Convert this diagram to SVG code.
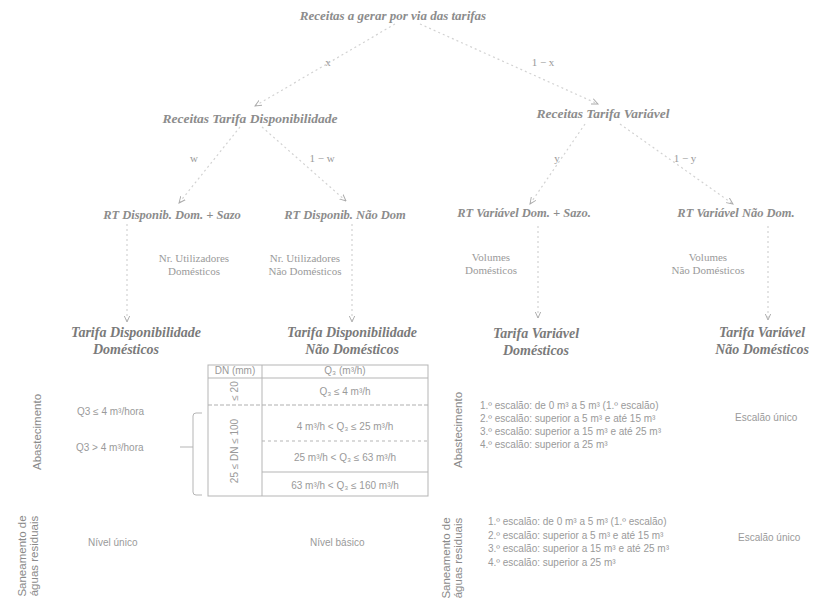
<svg xmlns="http://www.w3.org/2000/svg" width="813" height="600" viewBox="0 0 813 600">
<defs>
<style>
.h{font-family:"Liberation Serif",serif;font-style:italic;font-weight:bold;fill:#8c8c8c;text-anchor:middle}
.h1{font-size:13px}
.h2{font-size:13.5px}
.h3{font-size:12.5px}
.h4{font-size:14px;fill:#7a7a7a}
.el{font-family:"Liberation Serif",serif;font-size:11px;fill:#9a9a9a;text-anchor:middle}
.s{font-family:"Liberation Sans",sans-serif;font-size:10px;fill:#9a9a9a}
.m{text-anchor:middle}
.v{font-family:"Liberation Sans",sans-serif;font-size:11.5px;fill:#8a8a8a;text-anchor:middle}
.e{fill:none;stroke:#d2d2d2;stroke-width:1.2;stroke-dasharray:2 3}
.t{fill:none;stroke:#b5b5b5;stroke-width:1}
.td{fill:none;stroke:#b0b0b0;stroke-width:1.2;stroke-dasharray:4 2}
</style>
<marker id="a" viewBox="0 0 10 10" refX="9" refY="5" markerWidth="6" markerHeight="6" orient="auto-start-reverse">
<path d="M0,1 L9,5 L0,9" fill="none" stroke="#aaa" stroke-width="1.3"/>
</marker>
</defs>
<rect width="813" height="600" fill="#fff"/>

<g id="connectors">
<path class="e" d="M395,24 L255,106" marker-end="url(#a)"/>
<path class="e" d="M420,24 L598,104" marker-end="url(#a)"/>
<path class="e" d="M240,127 L179,203" marker-end="url(#a)"/>
<path class="e" d="M262,127 L346,201" marker-end="url(#a)"/>
<path class="e" d="M585,124 L530,204" marker-end="url(#a)"/>
<path class="e" d="M620,124 L733,204" marker-end="url(#a)"/>
<path class="e" d="M127,224 L127,322" marker-end="url(#a)"/>
<path class="e" d="M352,224 L352,322" marker-end="url(#a)"/>
<path class="e" d="M538,226 L538,318" marker-end="url(#a)"/>
<path class="e" d="M768,226 L768,320" marker-end="url(#a)"/>
<text class="el" x="328" y="66">x</text>
<text class="el" x="543" y="66">1 − x</text>
<text class="el" x="194" y="162">w</text>
<text class="el" x="322" y="162">1 − w</text>
<text class="el" x="557" y="162">y</text>
<text class="el" x="685" y="162">1 − y</text>
<text class="el" x="194" y="262">Nr. Utilizadores</text>
<text class="el" x="194" y="275">Domésticos</text>
<text class="el" x="305" y="262">Nr. Utilizadores</text>
<text class="el" x="305" y="275">Não Domésticos</text>
<text class="el" x="491" y="261">Volumes</text>
<text class="el" x="491" y="274">Domésticos</text>
<text class="el" x="708" y="261">Volumes</text>
<text class="el" x="708" y="274">Não Domésticos</text>
</g>

<g id="n-title"><text class="h h1" x="393" y="20">Receitas a gerar por via das tarifas</text></g>
<g id="n-disp"><text class="h h2" x="250" y="123">Receitas Tarifa Disponibilidade</text></g>
<g id="n-var"><text class="h h2" x="603" y="118">Receitas Tarifa Variável</text></g>
<g id="n-rtdd"><text class="h h3" x="172" y="219">RT Disponib. Dom. + Sazo</text></g>
<g id="n-rtdn"><text class="h h3" x="345" y="219">RT Disponib. Não Dom</text></g>
<g id="n-rtvd"><text class="h h3" x="524" y="217">RT Variável Dom. + Sazo.</text></g>
<g id="n-rtvn"><text class="h h3" x="736" y="217">RT Variável Não Dom.</text></g>
<g id="n-tdd"><text class="h h4" x="136" y="337">Tarifa Disponibilidade</text><text class="h h4" x="126" y="354">Domésticos</text></g>
<g id="n-tdn"><text class="h h4" x="352" y="337">Tarifa Disponibilidade</text><text class="h h4" x="352" y="354">Não Domésticos</text></g>
<g id="n-tvd"><text class="h h4" x="536" y="338">Tarifa Variável</text><text class="h h4" x="536" y="355">Domésticos</text></g>
<g id="n-tvn"><text class="h h4" x="762" y="337">Tarifa Variável</text><text class="h h4" x="762" y="354">Não Domésticos</text></g>

<g id="abast-left">
<text class="v" transform="translate(41,432) rotate(-90)">Abastecimento</text>
<text class="s" x="77" y="415">Q3 ≤ 4 m³/hora</text>
<text class="s" x="76" y="451">Q3 &gt; 4 m³/hora</text>
<path class="t" d="M180,447 L193,447"/>
<path class="t" d="M202,413 L196,413 Q193,413 193,416 L193,492 Q193,495 196,495 L202,495"/>
</g>

<g id="table">
<rect class="t" x="208" y="365" width="220" height="131"/>
<path class="t" d="M262,365 L262,496"/>
<path class="t" d="M208,378 L428,378"/>
<path class="td" d="M208,405 L428,405"/>
<path class="t" d="M262,441 L428,441" stroke-dasharray="3 3"/>
<path class="t" d="M262,472 L428,472"/>
<text class="s m" x="235" y="374" font-size="9">DN (mm)</text>
<text class="s m" x="345" y="374">Q₃ (m³/h)</text>
<text class="s m" transform="translate(238,391) rotate(-90)" font-size="9">≤ 20</text>
<text class="s m" transform="translate(238,451) rotate(-90)" font-size="9">25 ≤ DN ≤ 100</text>
<text class="s m" x="345" y="395">Q₃ ≤ 4 m³/h</text>
<text class="s m" x="345" y="430">4 m³/h &lt; Q₃ ≤ 25 m³/h</text>
<text class="s m" x="345" y="461">25 m³/h &lt; Q₃ ≤ 63 m³/h</text>
<text class="s m" x="345" y="489">63 m³/h &lt; Q₃ ≤ 160 m³/h</text>
</g>

<g id="abast-right">
<text class="v" transform="translate(462,430) rotate(-90)">Abastecimento</text>
<text class="s" x="480" y="409">1.º escalão: de 0 m³ a 5 m³ (1.º escalão)</text>
<text class="s" x="480" y="422">2.º escalão: superior a 5 m³ e até 15 m³</text>
<text class="s" x="480" y="435">3.º escalão: superior a 15 m³ e até 25 m³</text>
<text class="s" x="480" y="448">4.º escalão: superior a 25 m³</text>
<text class="s" x="735" y="421">Escalão único</text>
</g>

<g id="san-left">
<text class="v" font-size="9.5" transform="translate(26,556) rotate(-90)">Saneamento de</text>
<text class="v" font-size="9.5" transform="translate(38,556) rotate(-90)">águas residuais</text>
<text class="s" x="88" y="546">Nível único</text>
<text class="s" x="310" y="546">Nível básico</text>
</g>

<g id="san-right">
<text class="v" font-size="9.5" transform="translate(450,558) rotate(-90)">Saneamento de</text>
<text class="v" font-size="9.5" transform="translate(462,558) rotate(-90)">águas residuais</text>
<text class="s" x="488" y="525">1.º escalão: de 0 m³ a 5 m³ (1.º escalão)</text>
<text class="s" x="488" y="539">2.º escalão: superior a 5 m³ e até 15 m³</text>
<text class="s" x="488" y="552">3.º escalão: superior a 15 m³ e até 25 m³</text>
<text class="s" x="488" y="566">4.º escalão: superior a 25 m³</text>
<text class="s" x="738" y="541">Escalão único</text>
</g>
</svg>
